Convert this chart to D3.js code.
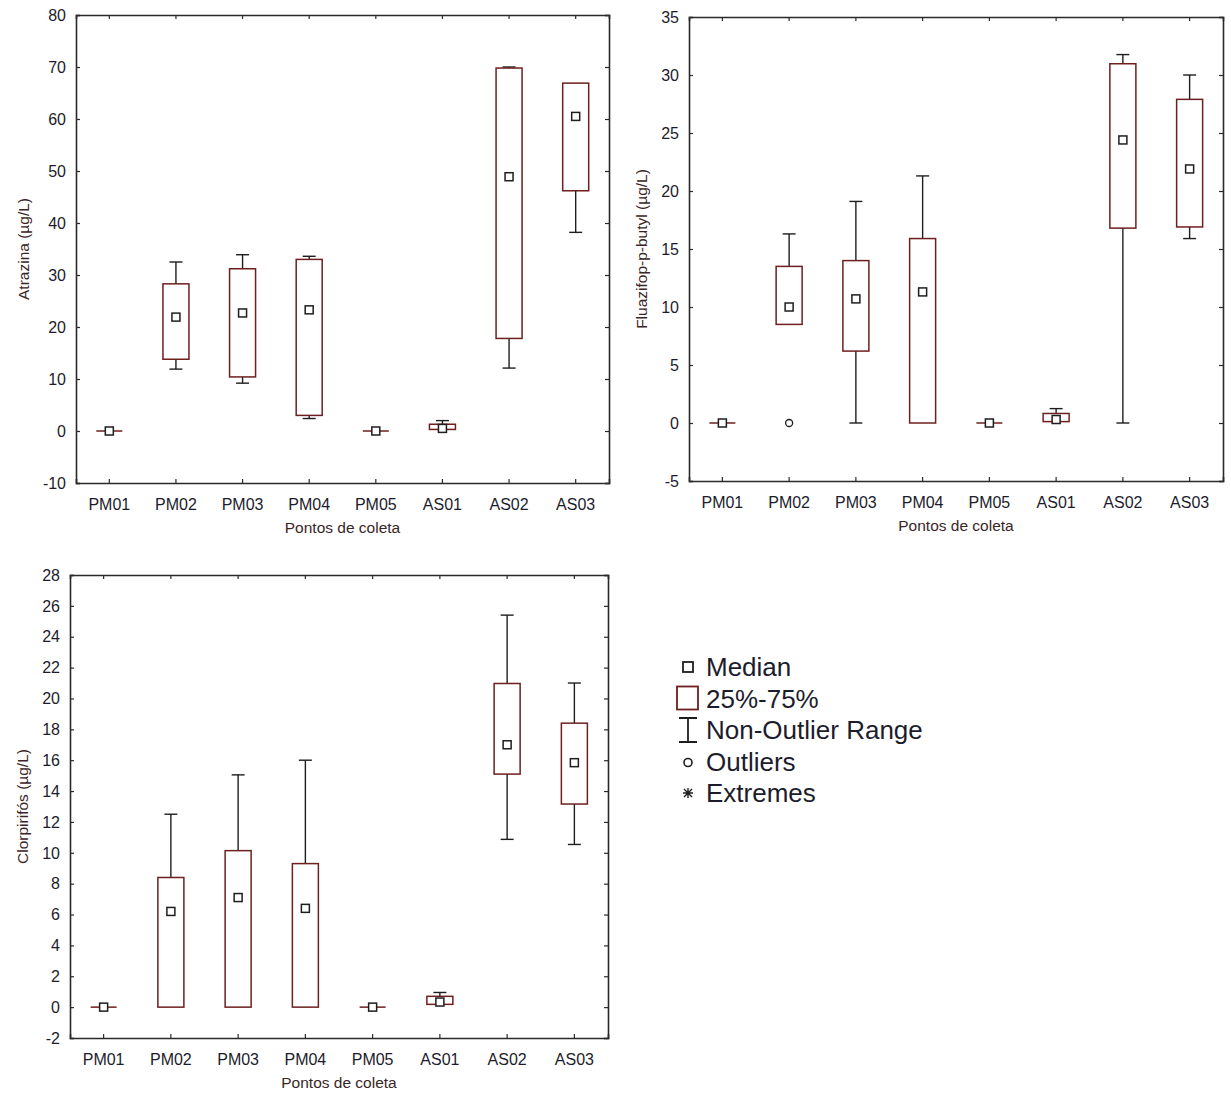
<!DOCTYPE html>
<html>
<head>
<meta charset="utf-8">
<script src="https://cdn.jsdelivr.net/npm/d3@7"></script>
<style>
  html, body { margin: 0; padding: 0; background: #fff; }
  svg { display: block; font-family: "Liberation Sans", Arial, sans-serif; }
</style>
</head>
<body>
<svg id="chart" width="1231" height="1093"></svg>
<script>
// Sampling points
const sites = ["PM01", "PM02", "PM03", "PM04", "PM05", "AS01", "AS02", "AS03"];

// Atrazina (µg/L): non-outlier min, 25%, median, 75%, non-outlier max
const atrazinaMin    = [0, 11.9,  9.2,  2.4, 0, 0.3, 12.1, 38.2];
const atrazinaQ1     = [0, 13.8, 10.4,  3.0, 0, 0.3, 17.8, 46.2];
const atrazinaMedian = [0, 21.9, 22.7, 23.3, 0, 0.5, 48.9, 60.5];
const atrazinaQ3     = [0, 28.3, 31.2, 33.0, 0, 1.3, 69.8, 66.9];
const atrazinaMax    = [0, 32.5, 33.9, 33.6, 0, 2.0, 70.0, 66.9];
const atrazinaOutliers = [[], [], [], [], [], [], [], []];
const atrazinaTicks  = [-10, 0, 10, 20, 30, 40, 50, 60, 70, 80];

// Fluazifop-p-butyl (µg/L)
const fluazifopMin    = [0,  8.5,  0,    0,  0, 0.12,  0,   15.9];
const fluazifopQ1     = [0,  8.5,  6.2,  0,  0, 0.12, 16.8, 16.9];
const fluazifopMedian = [0, 10.0, 10.7, 11.3, 0, 0.3,  24.4, 21.9];
const fluazifopQ3     = [0, 13.5, 14.0, 15.9, 0, 0.82, 30.97, 27.9];
const fluazifopMax    = [0, 16.3, 19.1, 21.3, 0, 1.24, 31.76, 30.0];
const fluazifopOutliers = [[], [0], [], [], [], [], [], []];
const fluazifopTicks  = [-5, 0, 5, 10, 15, 20, 25, 30, 35];

// Clorpirifós (µg/L)
const clorpirifosMin    = [0, 0,    0,     0,    0, 0.18, 10.87, 10.54];
const clorpirifosQ1     = [0, 0,    0,     0,    0, 0.18, 15.1,  13.16];
const clorpirifosMedian = [0, 6.2,  7.1,   6.4,  0, 0.33, 17.0,  15.84];
const clorpirifosQ3     = [0, 8.4,  10.14, 9.3,  0, 0.7,  20.97, 18.4];
const clorpirifosMax    = [0, 12.5, 15.05, 16.0, 0, 0.95, 25.4,  21.0];
const clorpirifosOutliers = [[], [], [], [], [], [], [], []];
const clorpirifosTicks  = [-2, 0, 2, 4, 6, 8, 10, 12, 14, 16, 18, 20, 22, 24, 26, 28];

// Legend entries
const legendLabels = ["Median", "25%-75%", "Non-Outlier Range", "Outliers", "Extremes"];

const boxColor = "#6e1f1f";
const inkColor = "#1e1e1e";
const textColor = "#1c1c2c";
const titleColor = "#3a2626";

const svg = d3.select("#chart");

function boxPanel(opts) {
  const { left, top, right, bottom, domain, ticks, yTitle, titleX,
          mins, q1s, medians, q3s, maxs, outliers } = opts;
  const g = svg.append("g");

  const x = d3.scaleBand().domain(sites).range([left, right]);
  const y = d3.scaleLinear().domain(domain).range([bottom, top]);
  const tickLen = 4;

  // Frame with inward ticks on all four sides
  const frame = [
    [d3.axisBottom(x).tickSize(-tickLen).tickFormat(""), `translate(0,${bottom})`],
    [d3.axisTop(x).tickSize(-tickLen).tickFormat(""), `translate(0,${top})`],
    [d3.axisLeft(y).tickValues(ticks).tickSize(-tickLen).tickFormat(""), `translate(${left},0)`],
    [d3.axisRight(y).tickValues(ticks).tickSize(-tickLen).tickFormat(""), `translate(${right},0)`]
  ];
  frame.forEach(([ax, tr]) => {
    const a = g.append("g").attr("transform", tr).call(ax);
    a.select(".domain").attr("stroke", "#2a2a2a").attr("stroke-width", 1.6);
    a.selectAll(".tick line").attr("stroke", "#2a2a2a").attr("stroke-width", 1.2);
  });

  // Tick labels
  g.append("g").selectAll("text.ylab").data(ticks).join("text")
    .attr("x", left - 10).attr("y", d => y(d))
    .attr("dy", "0.36em").attr("text-anchor", "end")
    .attr("font-size", 16).attr("fill", textColor)
    .text(d => d);

  g.append("g").selectAll("text.xlab").data(sites).join("text")
    .attr("x", d => x(d) + x.bandwidth() / 2).attr("y", bottom + 27)
    .attr("text-anchor", "middle")
    .attr("font-size", 16).attr("fill", textColor)
    .text(d => d);

  // Axis titles
  g.append("text")
    .attr("x", (left + right) / 2).attr("y", bottom + 50)
    .attr("text-anchor", "middle").attr("font-size", 15.5).attr("fill", titleColor)
    .text("Pontos de coleta");
  g.append("text")
    .attr("transform", `translate(${titleX},${(top + bottom) / 2}) rotate(-90)`)
    .attr("text-anchor", "middle").attr("dy", "0.36em")
    .attr("font-size", 15.5).attr("fill", titleColor)
    .text(yTitle);

  const boxW = 26, capW = 13, medS = 8;
  const rows = sites.map((s, i) => ({
    site: s, min: mins[i], q1: q1s[i], med: medians[i], q3: q3s[i], max: maxs[i], out: outliers[i]
  }));
  const cx = d => x(d.site) + x.bandwidth() / 2;

  const items = g.append("g").selectAll("g.site").data(rows).join("g");

  // Upper whisker
  items.filter(d => d.max > d.q3).each(function (d) {
    const s = d3.select(this);
    s.append("line").attr("x1", cx(d)).attr("x2", cx(d))
      .attr("y1", y(d.q3)).attr("y2", y(d.max))
      .attr("stroke", inkColor).attr("stroke-width", 1.4);
    s.append("line").attr("x1", cx(d) - capW / 2).attr("x2", cx(d) + capW / 2)
      .attr("y1", y(d.max)).attr("y2", y(d.max))
      .attr("stroke", inkColor).attr("stroke-width", 1.4);
  });
  // Lower whisker
  items.filter(d => d.min < d.q1).each(function (d) {
    const s = d3.select(this);
    s.append("line").attr("x1", cx(d)).attr("x2", cx(d))
      .attr("y1", y(d.q1)).attr("y2", y(d.min))
      .attr("stroke", inkColor).attr("stroke-width", 1.4);
    s.append("line").attr("x1", cx(d) - capW / 2).attr("x2", cx(d) + capW / 2)
      .attr("y1", y(d.min)).attr("y2", y(d.min))
      .attr("stroke", inkColor).attr("stroke-width", 1.4);
  });

  // Interquartile box
  items.filter(d => d.q3 > d.q1).append("rect")
    .attr("x", d => cx(d) - boxW / 2).attr("width", boxW)
    .attr("y", d => y(d.q3)).attr("height", d => y(d.q1) - y(d.q3))
    .attr("fill", "none").attr("stroke", boxColor).attr("stroke-width", 1.5);
  // Collapsed box drawn as a flat line
  items.filter(d => d.q3 === d.q1).append("line")
    .attr("x1", d => cx(d) - boxW / 2).attr("x2", d => cx(d) + boxW / 2)
    .attr("y1", d => y(d.q1)).attr("y2", d => y(d.q1))
    .attr("stroke", boxColor).attr("stroke-width", 1.5);

  // Median marker (not shown where an outlier sits in place of the box)
  items.filter(d => !(d.out.length && d.out.includes(d.med))).append("rect")
    .attr("x", d => cx(d) - medS / 2).attr("y", d => y(d.med) - medS / 2)
    .attr("width", medS).attr("height", medS)
    .attr("fill", "#fff").attr("stroke", inkColor).attr("stroke-width", 1.5);

  // Outliers
  items.selectAll("circle").data(d => d.out.map(v => ({ v, d }))).join("circle")
    .attr("cx", o => cx(o.d)).attr("cy", o => y(o.v)).attr("r", 3.5)
    .attr("fill", "#fff").attr("stroke", inkColor).attr("stroke-width", 1.3);
}

boxPanel({
  left: 76, top: 15, right: 609, bottom: 483, domain: [-10, 80], ticks: atrazinaTicks,
  yTitle: "Atrazina (µg/L)", titleX: 23,
  mins: atrazinaMin, q1s: atrazinaQ1, medians: atrazinaMedian, q3s: atrazinaQ3, maxs: atrazinaMax,
  outliers: atrazinaOutliers
});

boxPanel({
  left: 689, top: 17, right: 1223, bottom: 481, domain: [-5, 35], ticks: fluazifopTicks,
  yTitle: "Fluazifop-p-butyl (µg/L)", titleX: 641,
  mins: fluazifopMin, q1s: fluazifopQ1, medians: fluazifopMedian, q3s: fluazifopQ3, maxs: fluazifopMax,
  outliers: fluazifopOutliers
});

boxPanel({
  left: 70, top: 575, right: 608, bottom: 1038, domain: [-2, 28], ticks: clorpirifosTicks,
  yTitle: "Clorpirifós (µg/L)", titleX: 22,
  mins: clorpirifosMin, q1s: clorpirifosQ1, medians: clorpirifosMedian, q3s: clorpirifosQ3, maxs: clorpirifosMax,
  outliers: clorpirifosOutliers
});

// Legend
const legend = svg.append("g");
const legY = d3.scalePoint().domain(legendLabels).range([667, 793]);
const symX = 688;

legend.selectAll("text").data(legendLabels).join("text")
  .attr("x", 706).attr("y", d => legY(d)).attr("dy", "0.36em")
  .attr("font-size", 26).attr("fill", textColor)
  .text(d => d);

// Median symbol
legend.append("rect")
  .attr("x", symX - 5).attr("y", legY("Median") - 5).attr("width", 10).attr("height", 10)
  .attr("fill", "#fff").attr("stroke", inkColor).attr("stroke-width", 1.8);
// Box symbol
legend.append("rect")
  .attr("x", symX - 11).attr("y", legY("25%-75%") - 12).attr("width", 21).attr("height", 23)
  .attr("fill", "#fff").attr("stroke", boxColor).attr("stroke-width", 1.8);
// Whisker symbol
const wy = legY("Non-Outlier Range");
legend.append("path")
  .attr("d", `M${symX - 9},${wy - 12}H${symX + 9}M${symX},${wy - 12}V${wy + 12}M${symX - 9},${wy + 12}H${symX + 9}`)
  .attr("fill", "none").attr("stroke", inkColor).attr("stroke-width", 1.8);
// Outlier symbol
legend.append("circle")
  .attr("cx", symX).attr("cy", legY("Outliers") + 1).attr("r", 4)
  .attr("fill", "#fff").attr("stroke", inkColor).attr("stroke-width", 1.6);
// Extreme symbol
const ey = legY("Extremes");
legend.append("path")
  .attr("d", `M${symX - 5},${ey}H${symX + 5}M${symX},${ey - 5}V${ey + 5}M${symX - 4},${ey - 4}L${symX + 4},${ey + 4}M${symX + 4},${ey - 4}L${symX - 4},${ey + 4}`)
  .attr("fill", "none").attr("stroke", inkColor).attr("stroke-width", 1.4);
</script>
</body>
</html>
